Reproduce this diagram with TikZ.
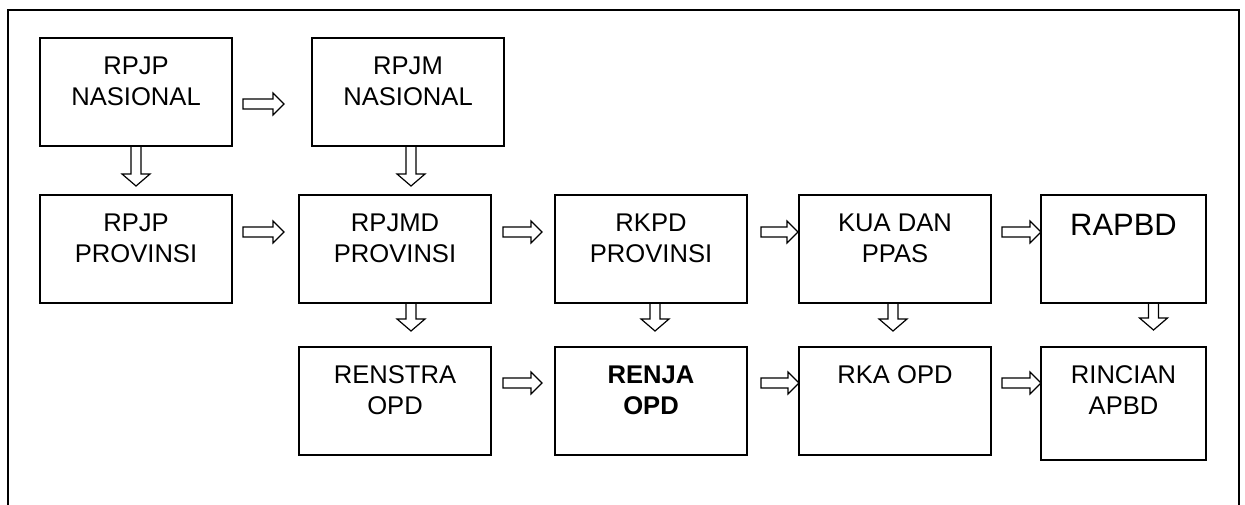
\documentclass[tikz,border=0pt]{standalone}
\usepackage{fontspec}
\setmainfont{Liberation Sans}
\usetikzlibrary{calc}
\usetikzlibrary{positioning}
\tikzset{box/.style = {draw, line width=1.4pt, anchor=north west, inner sep=0pt, outer sep=0pt,
                       minimum width=4.8cm, minimum height=2.7cm}}
\tikzset{txt/.style = {anchor=north, align=center, inner sep=0pt,
                       font=\fontsize{18.2}{22}\selectfont}}
\tikzset{hblk/.style = {line width=0.85pt,
                        to path={let \p1=(\tikztostart), \p2=(\tikztotarget) in
                          (\x1,\y1+0.125cm) -- (\x2-0.275cm,\y1+0.125cm) -- (\x2-0.275cm,\y1+0.275cm)
                          -- (\x2,\y1) -- (\x2-0.275cm,\y1-0.275cm) -- (\x2-0.275cm,\y1-0.125cm)
                          -- (\x1,\y1-0.125cm) -- cycle}}}
\tikzset{vblk/.style = {line width=0.85pt,
                        to path={let \p1=(\tikztostart), \p2=(\tikztotarget) in
                          (\x1-0.125cm,\y1) -- (\x1-0.125cm,\y2+0.3cm) -- (\x1-0.35cm,\y2+0.3cm)
                          -- (\x1,\y2) -- (\x1+0.35cm,\y2+0.3cm) -- (\x1+0.125cm,\y2+0.3cm)
                          -- (\x1+0.125cm,\y1) -- cycle}}}

\begin{document}
\begin{tikzpicture}[x=0.025cm, y=-0.025cm]
      \useasboundingbox (0, 0) rectangle (1245, 505);
      \draw [line width=1.4pt] (8, 505) -- (8, 10) -- (1239, 10) -- (1239, 505);
      % boxes
      \node [box] (rpjpn) at (40, 38) {};
      \node [box] (rpjmn) at (312, 38) {};
      \node [box] (rpjpp) at (40, 195) {};
      \node [box] (rpjmd) at (299, 195) {};
      \node [box] (rkpd) at (555, 195) {};
      \node [box] (kua) at (799, 195) {};
      \node [box, minimum width=4.125cm] (rapbd) at (1041, 195) {};
      \node [box] (renstra) at (299, 347) {};
      \node [box] (renja) at (555, 347) {};
      \node [box] (rka) at (799, 347) {};
      \node [box, minimum width=4.125cm, minimum height=2.825cm] (rincian) at (1041, 347) {};
      % texts
      \node [txt] (trpjpn) at ($(rpjpn.north)+(0, 18.5)$) {RPJP\\NASIONAL};
      \node [txt] (trpjmn) at ($(rpjmn.north)+(0, 18.5)$) {RPJM\\NASIONAL};
      \node [txt] (trpjpp) at ($(rpjpp.north)+(0, 18.5)$) {RPJP\\PROVINSI};
      \node [txt] (trpjmd) at ($(rpjmd.north)+(0, 18.5)$) {RPJMD\\PROVINSI};
      \node [txt] (trkpd) at ($(rkpd.north)+(0, 18.5)$) {RKPD\\PROVINSI};
      \node [txt] (tkua) at ($(kua.north)+(0, 18.5)$) {KUA DAN\\PPAS};
      \node [txt, font=\fontsize{22}{26}\selectfont] (trapbd) at ($(rapbd.north)+(0, 19)$) {RAPBD};
      \node [txt] (trenstra) at ($(renstra.north)+(0, 18.5)$) {RENSTRA\\OPD};
      \node [txt, font=\fontsize{18.2}{22}\selectfont\bfseries] (trenja) at ($(renja.north)+(0, 18.5)$) {RENJA\\OPD};
      \node [txt] (trka) at ($(rka.north)+(0, 18.5)$) {RKA OPD};
      \node [txt] (trincian) at ($(rincian.north)+(0, 18.5)$) {RINCIAN\\APBD};
      % arrows
      \draw [hblk] ($(rpjpn.north east)+(11, 66)$) to ($(rpjmn.north west)+(-28, 66)$);
      \draw [hblk] ($(rpjpp.north east)+(11, 37)$) to ($(rpjmd.north west)+(-15, 37)$);
      \draw [hblk] ($(rpjmd.north east)+(12, 37)$) to ($(rkpd.north west)+(-13, 37)$);
      \draw [hblk] ($(rkpd.north east)+(14, 37)$) to ($(kua.north west)+(-1, 37)$);
      \draw [hblk] ($(kua.north east)+(11, 37)$) to ($(rapbd.north west)+(0, 37)$);
      \draw [hblk] ($(renstra.north east)+(12, 36)$) to ($(renja.north west)+(-13, 36)$);
      \draw [hblk] ($(renja.north east)+(14, 36)$) to ($(rka.north west)+(0, 36)$);
      \draw [hblk] ($(rka.north east)+(11, 36)$) to ($(rincian.north west)+(0, 36)$);
      \draw [vblk] (rpjpn.south) to ($(rpjpp.north)+(0, -9)$);
      \draw [vblk] ($(rpjmn.south)+(3, 0)$) to ($(rpjmd.north)+(15, -9)$);
      \draw [vblk] ($(rpjmd.south)+(16, 0)$) to ($(renstra.north)+(16, -16)$);
      \draw [vblk] ($(rkpd.south)+(4, 0)$) to ($(renja.north)+(4, -16)$);
      \draw [vblk] ($(kua.south)+(-2, 0)$) to ($(rka.north)+(-2, -16)$);
      \draw [vblk] ($(rapbd.south)+(30, 0)$) to ($(rincian.north)+(30, -17)$);
    \end{tikzpicture}
\end{document}
